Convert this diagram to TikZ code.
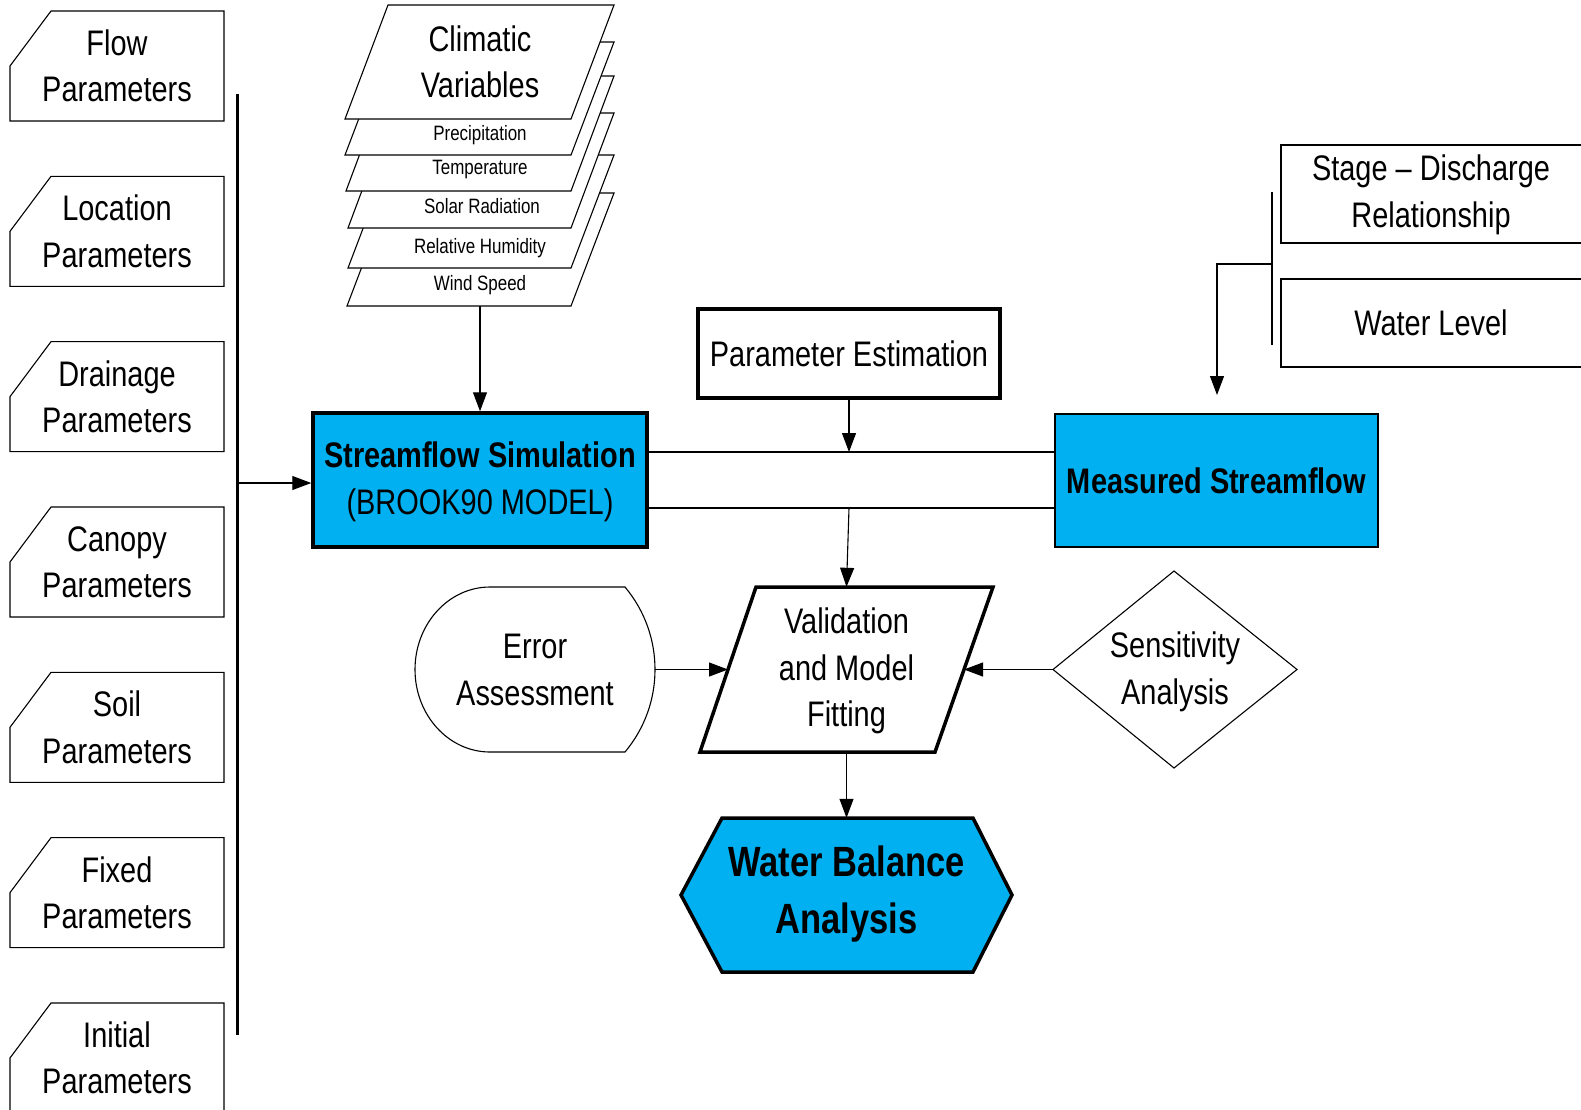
\documentclass[tikz,border=0pt]{standalone}
\usepackage{fontspec}
\setmainfont{Liberation Sans}[FakeStretch=0.815]
\usetikzlibrary{arrows.meta}
\definecolor{flowcyan}{HTML}{00B0F0}
\newcommand\fsmain{\fontsize{35.5}{46.4}\selectfont}
\newcommand\fssmall{\fontsize{20.8}{24}\selectfont}
\newcommand\fsbig{\fontsize{42.3}{56.5}\selectfont}
\begin{document}
\begin{tikzpicture}[x=1pt,y=-1pt,
  txt/.style={align=center, inner sep=0pt, font=\fsmain},
  slot/.style 2 args={txt, minimum width=#1pt, minimum height=#2pt},
  ln/.style={line width=1.1pt, line join=miter},
  heavy/.style={line width=3.5pt, line join=miter},
  arr/.style={ln, -{Triangle[length=19pt,width=14pt]}},
  ]
\useasboundingbox (0,0) rectangle (1581,1109);
\clip (0,0) rectangle (1581,1109);

% ---- parameter groups (chamfered cards) ----
\foreach \nm/\ttl [count=\i from 0] in {flow/Flow, location/Location,
    drainage/Drainage, canopy/Canopy, soil/Soil, fixed/Fixed, initial/Initial}{
  \pgfmathsetmacro\tp{11+165.33*\i}
  \draw[ln, fill=white] (51,\tp) -- (224,\tp) -- (224,\tp+110)
        -- (10,\tp+110) -- (10,\tp+55) -- cycle;
  \node[slot={214}{110}] (\nm) at (117,\tp+55) {\ttl\\Parameters};
}
\coordinate (bartop) at (237,94);
\coordinate (barbot) at (237,1035);
\coordinate (barjoin) at (237,483);
\draw[line width=3pt] (bartop) -- (barbot);

% ---- climatic input stack (back to front) ----
\foreach \bl/\t/\b in {347/193/306, 348/155/268, 348/113/228,
                       346/76/191, 345/42/155, 345/5/119}
  \draw[ln, fill=white] (\bl,\b) -- (\bl+43,\t) -- (614,\t) -- (571,\b) -- cycle;
\node[txt] (climatic) at (480,62) {Climatic\\Variables};
\node[txt, font=\fssmall] (precip) at (480,135) {Precipitation};
\node[txt, font=\fssmall] (temp)   at (480,169) {Temperature};
\node[txt, font=\fssmall] (solar)  at (482,206) {Solar Radiation};
\node[txt, font=\fssmall] (humid)  at (480,248) {Relative Humidity};
\node[txt, font=\fssmall] (wind)   at (480,285) {Wind Speed};
\coordinate (stackbase) at (480,306);

% ---- model and observations ----
\node[slot={334}{134}, draw, heavy, fill=flowcyan] (sim) at (480,480) {};
\node[txt] (simtext) at (480,482) {{\bfseries Streamflow Simulation}\\(BROOK90 MODEL)};
\node[slot={302}{89}, draw, heavy] (pe) at (849,353.5) {Parameter Estimation};
\node[slot={323}{133}, draw, ln, fill=flowcyan] (meas) at (1216.5,480.5)
  {\bfseries Measured Streamflow};

\draw[ln] (1281,145) rectangle (1600,243);
\draw[ln] (1281,279) rectangle (1600,367);
\node[slot={300}{98}] (stage) at (1431,195) {Stage -- Discharge\\Relationship};
\node[slot={300}{88}] (level) at (1431,323) {Water Level};
\coordinate (brtop) at (1272,192);
\coordinate (brbot) at (1272,345);
\coordinate (brmid) at (1272,264);
\coordinate (brtip) at (1217,395);
\draw[ln] (brtop) -- (brbot);
\draw[arr] (brmid) -| (brtip);

% ---- evaluation ----
\draw[ln, fill=white] (490,587) -- (625,587)
  .. controls (645,611) and (655,640) .. (655,669.5)
  .. controls (655,699) and (645,728) .. (625,752) -- (490,752)
  .. controls (448.6,752) and (415,715.1) .. (415,669.5)
  .. controls (415,623.9) and (448.6,587) .. (490,587) -- cycle;
\node[slot={240}{165}] (err) at (535,669.5) {};
\node[txt] (errtext) at (535,670) {Error\\Assessment};

\draw[heavy, fill=white] (756,587) -- (993,587) -- (935,752) -- (700,752) -- cycle;
\node[slot={293}{165}] (val) at (846.5,669.5) {};
\node[txt] (valtext) at (846.5,671) {Validation\\and Model\\Fitting};
\coordinate (valL) at (728,669.5);
\coordinate (valR) at (964,669.5);

\draw[ln, fill=white] (1174,571) -- (1297,669.5) -- (1174,768) -- (1053,669.5) -- cycle;
\node[slot={244}{197}] (sens) at (1175,669.5) {};
\node[txt] (senstext) at (1175,672) {Sensitivity\\Analysis};

\draw[heavy, fill=flowcyan] (722,818) -- (973,818) -- (1012,895) -- (973,972)
  -- (722,972) -- (681,895) -- cycle;
\node[slot={331}{154}] (wb) at (846.5,895) {};
\node[txt, font=\fsbig\bfseries] (wbtext) at (846.5,894) {Water Balance\\Analysis};

% ---- connectors ----
\coordinate (upline) at (0,452);
\coordinate (lowline) at (0,508);
\draw[arr] (barjoin) -- (sim.west |- barjoin);
\draw[arr] (stackbase) -- (sim.north);
\draw[ln] (sim.east |- upline) -- (meas.west |- upline);
\draw[ln] (sim.east |- lowline) -- (meas.west |- lowline);
\draw[arr] (pe.south) -- (pe.south |- upline);
\draw[arr] (pe.south |- lowline) -- (val.north);
\draw[arr] (err.east) -- (valL);
\draw[arr] (sens.west) -- (valR);
\draw[arr] (val.south) -- (wb.north);
\end{tikzpicture}
\end{document}
